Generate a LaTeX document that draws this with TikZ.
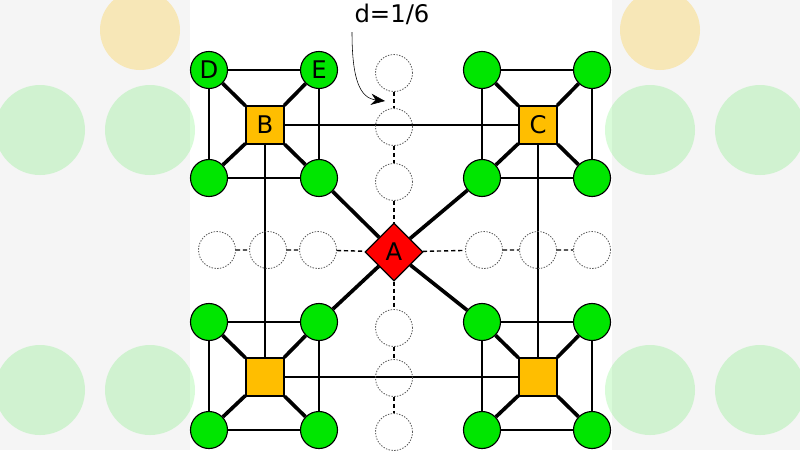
\documentclass[tikz,border=0pt]{standalone}
\usepackage{fontspec}
\setmainfont{DejaVu Sans}
\usetikzlibrary{shapes.geometric,arrows.meta}
\definecolor{leaf}{RGB}{0,230,0}
\definecolor{hub}{RGB}{255,190,0}
\newcommand{\unitpx}{*0.025cm}
\tikzset{
  leafnode/.style={circle, draw, line width=0.8pt, fill=leaf, minimum size=37\unitpx, inner sep=0pt, font=\LARGE},
  hubnode/.style={rectangle, draw, line width=0.8pt, fill=hub, minimum size=38\unitpx, inner sep=0pt, font=\LARGE},
  ghost/.style={circle, draw=gray!70!black, dash pattern=on 1pt off 1pt, line width=0.6pt, minimum size=37\unitpx, inner sep=0pt},
  strong/.style={line width=2.6pt},
  weak/.style={line width=1pt},
  dashlink/.style={densely dashed, line width=1pt}
}
\begin{document}
\begin{tikzpicture}[x=0.025cm,y=-0.025cm]
\useasboundingbox (0,0) rectangle (800,450);
% blurred side panels
\fill[gray!8] (0,0) rectangle (190,450);
\fill[gray!8] (612,0) rectangle (800,450);
\foreach \px in {40,150,650,760}{
  \fill[leaf,opacity=0.15] (\px,130) circle (45);
  \fill[leaf,opacity=0.15] (\px,390) circle (45);
}
\fill[hub,opacity=0.25] (140,30) circle (40);
\fill[hub,opacity=0.25] (660,30) circle (40);

\node[diamond, draw, line width=0.8pt, fill=red, minimum size=58\unitpx, inner sep=0pt, font=\LARGE] (A) at (394,252) {A};
\node[hubnode] (B) at (265,125) {B};
\node[hubnode] (C) at (538,125) {C};
\node[hubnode] (F) at (265,377) {};
\node[hubnode] (G) at (538,377) {};

% leaves around each hub
\foreach \h/\cx/\cy in {B/265/125, C/538/125, F/265/377, G/538/377}{
  \node[leafnode] (\h1) at (\cx-56,\cy-55) {};
  \node[leafnode] (\h2) at (\cx+54,\cy-55) {};
  \node[leafnode] (\h3) at (\cx-56,\cy+53) {};
  \node[leafnode] (\h4) at (\cx+54,\cy+53) {};
  \draw[weak] (\h1) -- (\h2) -- (\h4) -- (\h3) -- (\h1);
  \foreach \k in {1,...,4} \draw[strong] (\h) -- (\h\k);
}
\node[font=\LARGE] at (B1) {D};
\node[font=\LARGE] at (B2) {E};

\draw[strong] (A) -- (B4);
\draw[strong] (A) -- (C3);
\draw[strong] (A) -- (F2);
\draw[strong] (A) -- (G1);

\draw[weak] (B) -- (C);
\draw[weak] (F) -- (G);
\draw[weak] (B) -- (F);
\draw[weak] (C) -- (G);

% ghost positions
\node[ghost] (u1) at (394,73) {};
\node[ghost] (u2) at (394,127) {};
\node[ghost] (u3) at (394,182) {};
\node[ghost] (d1) at (394,328) {};
\node[ghost] (d2) at (394,378) {};
\node[ghost] (d3) at (394,432) {};
\node[ghost] (l1) at (217,250) {};
\node[ghost] (l2) at (268,250) {};
\node[ghost] (l3) at (318,250) {};
\node[ghost] (r1) at (484,250) {};
\node[ghost] (r2) at (538,250) {};
\node[ghost] (r3) at (592,250) {};
\draw[dashlink] (u1) -- (u2) -- (u3) -- (A) -- (d1) -- (d2) -- (d3);
\draw[dashlink] (l1) -- (l2) -- (l3) -- (A) -- (r1) -- (r2) -- (r3);

\node[font=\LARGE] (lbl) at (392,14) {d=1/6};
\coordinate (tip) at (385,101);
\draw[-{Stealth[length=10pt,width=8pt]}] (352,32) .. controls (352,80) and (360,98) .. (tip);
\end{tikzpicture}
\end{document}
